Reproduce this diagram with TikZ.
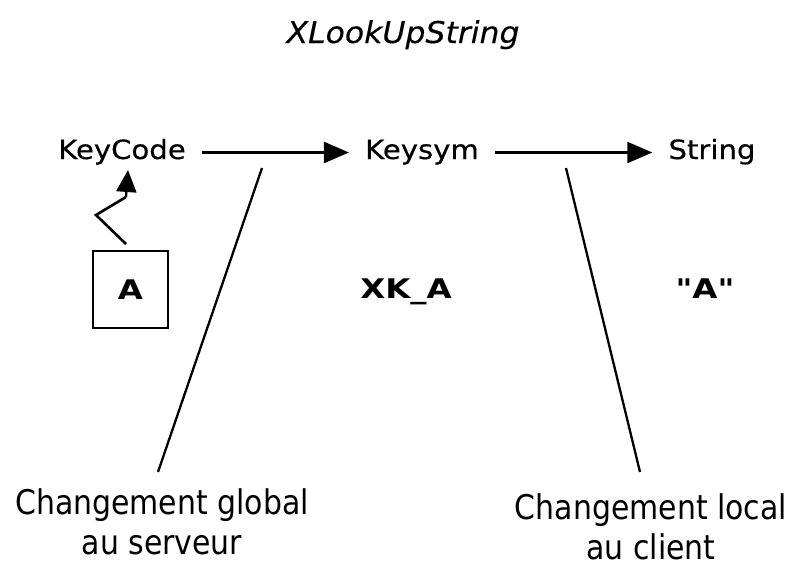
\documentclass[tikz,border=0pt]{standalone}
\usepackage{fontspec}
\usetikzlibrary{arrows.meta}
\newfontfamily\lblfont[FakeStretch=1.1, FakeBold=0.4]{DejaVu Sans}
\newfontfamily\valfont[FakeStretch=1.2]{DejaVu Sans}
\newfontfamily\ttlfont[FakeStretch=1.05, FakeBold=0.3]{DejaVu Sans}
\newfontfamily\botfont[FakeStretch=0.88]{DejaVu Sans}
\begin{document}
\begin{tikzpicture}[x=1pt,y=-1pt,
  lbl/.style={font=\lblfont\fontsize{26.5}{30}\selectfont, text height=19pt, text depth=6pt, inner xsep=16pt, inner ysep=0pt, anchor=base},
  val/.style={font=\valfont\bfseries\fontsize{27}{30}\selectfont, inner sep=0pt, anchor=base},
  bot/.style={font=\botfont\fontsize{34}{40}\selectfont, align=center, inner sep=0pt, anchor=base},
  arr/.style={line width=2.3pt, -{Triangle[length=25pt,width=21pt]}},
  rule/.style={line width=2.3pt}]
\useasboundingbox (0,0) rectangle (793,568);
\node[font=\ttlfont\itshape\fontsize{30}{34}\selectfont, anchor=base] (title) at (403,43) {XLookUpString};
\node[lbl] (keycode) at (122,159) {KeyCode};
\node[lbl] (keysym) at (422,159) {Keysym};
\node[lbl] (string) at (712,159) {String};
\node[val] (xka) at (406,298) {XK\_A};
\node[val] (qa) at (705,298) {"A"};
\node[draw, line width=1.4pt, minimum width=75pt, minimum height=77pt, inner sep=0pt,
      font=\valfont\bfseries\fontsize{27}{30}\selectfont] (box) at (130.5,289.5) {A};
\node[bot] (glob) at (162,554) {Changement global\\au serveur};
\node[bot] (loc) at (651,559) {Changement local\\au client};
\draw[arr] (keycode.east) -- (keysym.west);
\draw[arr] (keysym.east) -- (string.west);
\coordinate (z0) at (126,244);
\coordinate (z1) at (96,215);
\coordinate (z2) at (126,197);
\coordinate (ztip) at (128,170);
\draw[line width=2.6pt, line join=miter] (z0) -- (z1) -- (z2);
\draw[line width=2.3pt, -{Triangle[length=22pt,width=20pt]}] (z2) -- (ztip);
\coordinate (g1) at (262,168);
\coordinate (g2) at (158,472);
\coordinate (l1) at (566,168);
\coordinate (l2) at (640,472);
\draw[rule] (g1) -- (g2);
\draw[rule] (l1) -- (l2);
\end{tikzpicture}
\end{document}
